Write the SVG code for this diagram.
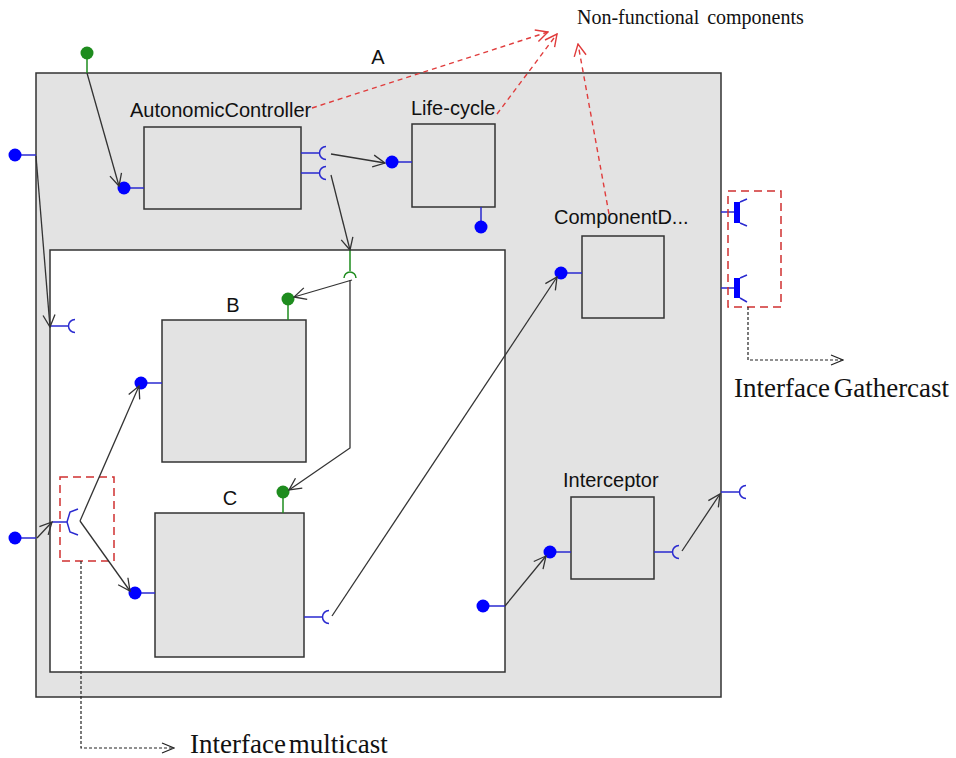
<svg xmlns="http://www.w3.org/2000/svg" xmlns:xlink="http://www.w3.org/1999/xlink" width="956" height="758" viewBox="0 0 956 758">
  <style>
    .box { fill: #e3e3e3; stroke: #333; stroke-width: 1.5; }
    .inner { fill: #ffffff; stroke: #333; stroke-width: 1.5; }
    .lbl { font-family: "Liberation Sans", Arial, sans-serif; font-size: 20px; fill: #111; }
    .note { font-family: "Liberation Serif", "Times New Roman", serif; fill: #111; }
    .itf { stroke: #2a2ad0; stroke-width: 1.5; fill: none; }
    .ball { fill: #0000ff; }
    .gitf { stroke: #1e8c1e; stroke-width: 1.5; fill: none; }
    .gball { fill: #1e8c1e; }
    .bind { stroke: #333; stroke-width: 1.3; fill: none; marker-end: url(#arr); }
    .nf { stroke: #e03c3c; stroke-width: 1.4; fill: none; stroke-dasharray: 5 4; marker-end: url(#arrRed); }
    .grp { stroke: #d03030; stroke-width: 1.5; fill: none; stroke-dasharray: 8 5; }
    .lead { stroke: #222; stroke-width: 1.2; fill: none; stroke-dasharray: 3 2; marker-end: url(#arrLead); }
  </style>
  <defs>
    <marker id="arr" markerUnits="userSpaceOnUse" markerWidth="14" markerHeight="14" viewBox="0 0 14 14" refX="13" refY="7" orient="auto">
      <path d="M1,1 L13,7 L1,13" fill="none" stroke="#333" stroke-width="1.3"/>
    </marker>
    <marker id="arrRed" markerUnits="userSpaceOnUse" markerWidth="14" markerHeight="14" viewBox="0 0 14 14" refX="13" refY="7" orient="auto">
      <path d="M1,1 L13,7 L1,13" fill="none" stroke="#e03c3c" stroke-width="1.4"/>
    </marker>
    <marker id="arrLead" markerUnits="userSpaceOnUse" markerWidth="14" markerHeight="14" viewBox="0 0 14 14" refX="13" refY="7" orient="auto">
      <path d="M1,2 L13,7 L1,12" fill="none" stroke="#222" stroke-width="1.2"/>
    </marker>
    <!-- required (client) interface pointing right -->
    <g id="reqR">
      <path class="itf" d="M0,0 H19 M25,-6.5 A6.5,6.5 0 0 0 25,6.5"/>
    </g>
  </defs>

  <!-- composite A -->
  <g id="A">
    <rect class="box" x="36" y="73" width="685" height="624"/>
    <text class="lbl" x="378" y="64" text-anchor="middle" font-size="19">A</text>
    <!-- external interfaces of A -->
    <path class="itf" d="M15,155 H36"/>
    <circle class="ball" cx="15" cy="155" r="6.5"/>
    <path class="itf" d="M15,538 H36"/>
    <circle class="ball" cx="15" cy="538" r="6.5"/>
    <path class="gitf" d="M87,53 V73"/>
    <circle class="gball" cx="87" cy="53" r="6.5"/>
    <use xlink:href="#reqR" x="721" y="492"/>
  </g>

  <!-- membrane content -->
  <g id="content">
    <rect class="inner" x="50" y="250" width="455" height="422"/>
    <use xlink:href="#reqR" x="50" y="326"/>
    <path class="gitf" d="M350,250 V271 M344,278 A6,6 0 0 1 356,278"/>
    <path class="itf" d="M483,606 H505"/>
    <circle class="ball" cx="483" cy="606" r="6.5"/>
  </g>

  <g id="AutonomicController">
    <rect class="box" x="144" y="127" width="157" height="82"/>
    <text class="lbl" x="130" y="117">AutonomicController</text>
    <path class="itf" d="M124,188 H144"/>
    <circle class="ball" cx="124" cy="188" r="6.5"/>
    <use xlink:href="#reqR" x="301" y="153"/>
    <use xlink:href="#reqR" x="301" y="173"/>
  </g>

  <g id="LifeCycle">
    <rect class="box" x="412" y="124" width="83" height="83"/>
    <text class="lbl" x="411" y="115">Life-cycle</text>
    <path class="itf" d="M392,162 H412 M481,207 V227"/>
    <circle class="ball" cx="392" cy="162" r="6.5"/>
    <circle class="ball" cx="481" cy="227" r="6.5"/>
  </g>

  <g id="ComponentD">
    <rect class="box" x="582" y="236" width="82" height="82"/>
    <text class="lbl" x="554" y="224">ComponentD...</text>
    <path class="itf" d="M561,273 H582"/>
    <circle class="ball" cx="561" cy="273" r="6.5"/>
  </g>

  <g id="Interceptor">
    <rect class="box" x="571" y="497" width="83" height="82"/>
    <text class="lbl" x="563" y="487">Interceptor</text>
    <path class="itf" d="M550,552 H571"/>
    <circle class="ball" cx="550" cy="552" r="6.5"/>
    <use xlink:href="#reqR" x="654" y="552"/>
  </g>

  <g id="B">
    <rect class="box" x="162" y="320" width="144" height="142"/>
    <text class="lbl" x="233" y="312" text-anchor="middle">B</text>
    <path class="itf" d="M141,383 H162"/>
    <circle class="ball" cx="141" cy="383" r="6.5"/>
    <path class="gitf" d="M288,299 V320"/>
    <circle class="gball" cx="288" cy="299" r="6.5"/>
  </g>

  <g id="C">
    <rect class="box" x="155" y="513" width="149" height="144"/>
    <text class="lbl" x="230" y="505" text-anchor="middle">C</text>
    <path class="itf" d="M135,593 H155"/>
    <circle class="ball" cx="135" cy="593" r="6.5"/>
    <path class="gitf" d="M283,492 V513"/>
    <circle class="gball" cx="283" cy="492" r="6.5"/>
    <use xlink:href="#reqR" x="304" y="617"/>
  </g>

  <!-- multicast interface -->
  <g id="Multicast">
    <path class="itf" d="M52,522 H67 M78,509 L70,512 L67,522 L70,532 L78,535"/>
    <rect class="grp" x="60" y="477" width="54" height="84"/>
  </g>

  <!-- gathercast interfaces -->
  <g id="Gathercast">
    <path class="itf" d="M721,212 H735 M740,202 L747,199 M740,223 L747,226 M721,288 H735 M740,278 L747,275 M740,298 L747,302"/>
    <rect x="734" y="202" width="6" height="21" fill="#0000ff"/>
    <rect x="734" y="278" width="6" height="20" fill="#0000ff"/>
    <rect class="grp" x="728" y="191" width="53" height="116"/>
  </g>

  <g id="connectors">
    <path class="bind" d="M87,73 L119,186"/>
    <path class="bind" d="M331,154 L385,163"/>
    <path class="bind" d="M331,175 L350,250"/>
    <path class="bind" d="M352,280 L294,297"/>
    <path class="bind" d="M350,280 V448 L289,490"/>
    <path class="bind" d="M36,156 L50,327"/>
    <path class="bind" d="M37,538 L52,522"/>
    <path class="bind" d="M80,521 L139,386"/>
    <path class="bind" d="M80,521 L130,591"/>
    <path class="bind" d="M332,616 L557,277"/>
    <path class="bind" d="M505,606 L546,556"/>
    <path class="bind" d="M682,551 L720,494"/>
    <path class="nf" d="M312,108 L548,32"/>
    <path class="nf" d="M497,114 L557,34"/>
    <path class="nf" d="M609,214 L578,44"/>
    <path class="lead" d="M81,561 V748 H174"/>
    <path class="lead" d="M748,307 V360 H843"/>
  </g>

  <g id="notes">
    <text class="note" x="577" y="24" font-size="20" word-spacing="3">Non-functional components</text>
    <text class="note" x="734" y="397" font-size="27" word-spacing="-3">Interface Gathercast</text>
    <text class="note" x="190" y="753" font-size="27" word-spacing="-4">Interface multicast</text>
  </g>
</svg>
